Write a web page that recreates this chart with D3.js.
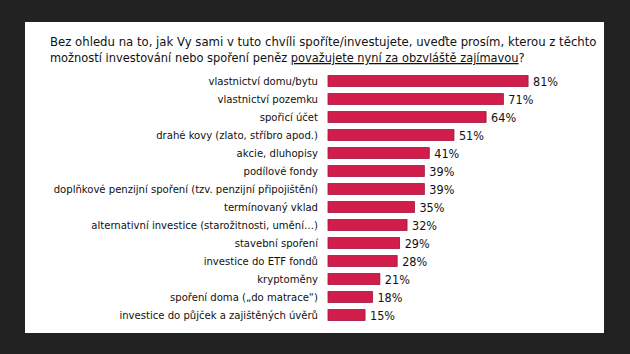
<!DOCTYPE html>
<html lang="cs">
<head>
<meta charset="UTF-8">
<title>Zajímavé možnosti investování</title>
<script src="https://cdn.jsdelivr.net/npm/d3@7"></script>
<style>
  body { margin: 0; background: #222222; }
  svg text { font-family: "DejaVu Sans Condensed", "DejaVu Sans", sans-serif; fill: #111; }
</style>
</head>
<body>
<script>
// data
var categories = [
  "vlastnictví domu/bytu",
  "vlastnictví pozemku",
  "spořicí účet",
  "drahé kovy (zlato, stříbro apod.)",
  "akcie, dluhopisy",
  "podílové fondy",
  "doplňkové penzijní spoření (tzv. penzijní připojištění)",
  "termínovaný vklad",
  "alternativní investice (starožitnosti, umění…)",
  "stavební spoření",
  "investice do ETF fondů",
  "kryptoměny",
  "spoření doma („do matrace“)",
  "investice do půjček a zajištěných úvěrů"
];
var values = [81, 71, 64, 51, 41, 39, 39, 35, 32, 29, 28, 21, 18, 15];

var w = 630, h = 354;

var svg = d3.select("body").append("svg")
  .attr("width", w)
  .attr("height", h);

// white panel
svg.append("rect")
  .attr("x", 25).attr("y", 22)
  .attr("width", 579).attr("height", 311)
  .attr("fill", "#ffffff");

// title, two lines
svg.append("text")
  .attr("x", 50).attr("y", 46)
  .attr("font-size", "13px")
  .text("Bez ohledu na to, jak Vy sami v tuto chvíli spoříte/investujete, uveďte prosím, kterou z těchto");
var line2 = svg.append("text")
  .attr("x", 50).attr("y", 62)
  .attr("font-size", "12.7px");
line2.append("tspan").text("možností investování nebo spoření peněz ");
line2.append("tspan").attr("text-decoration", "underline").text("považujete nyní za obzvláště zajímavou");
line2.append("tspan").text("?");

// scales
var x = d3.scaleLinear().domain([0, 100]).range([328, 575]);
var y = d3.scaleBand().domain(categories).range([72, 324])
  .paddingInner(0.4).paddingOuter(0.2);

// bars
svg.selectAll("rect.bar")
  .data(values)
  .enter()
  .append("rect")
  .attr("class", "bar")
  .attr("x", x(0))
  .attr("y", function(d, i) { return y(categories[i]); })
  .attr("width", function(d) { return x(d) - x(0); })
  .attr("height", y.bandwidth())
  .attr("fill", "#d11d4c")
  .attr("stroke", "#9e1238")
  .attr("stroke-width", 0.8);

// category labels
svg.selectAll("text.cat")
  .data(categories)
  .enter()
  .append("text")
  .attr("class", "cat")
  .attr("x", 318)
  .attr("y", function(d) { return y(d) + y.bandwidth() / 2; })
  .attr("dy", "0.35em")
  .attr("text-anchor", "end")
  .attr("font-size", "11.2px")
  .text(function(d) { return d; });

// value labels
svg.selectAll("text.val")
  .data(values)
  .enter()
  .append("text")
  .attr("class", "val")
  .attr("x", function(d) { return x(d) + 5; })
  .attr("y", function(d, i) { return y(categories[i]) + y.bandwidth() / 2; })
  .attr("dy", "0.38em")
  .attr("font-size", "12.5px")
  .text(function(d) { return d + "%"; });
</script>
</body>
</html>
